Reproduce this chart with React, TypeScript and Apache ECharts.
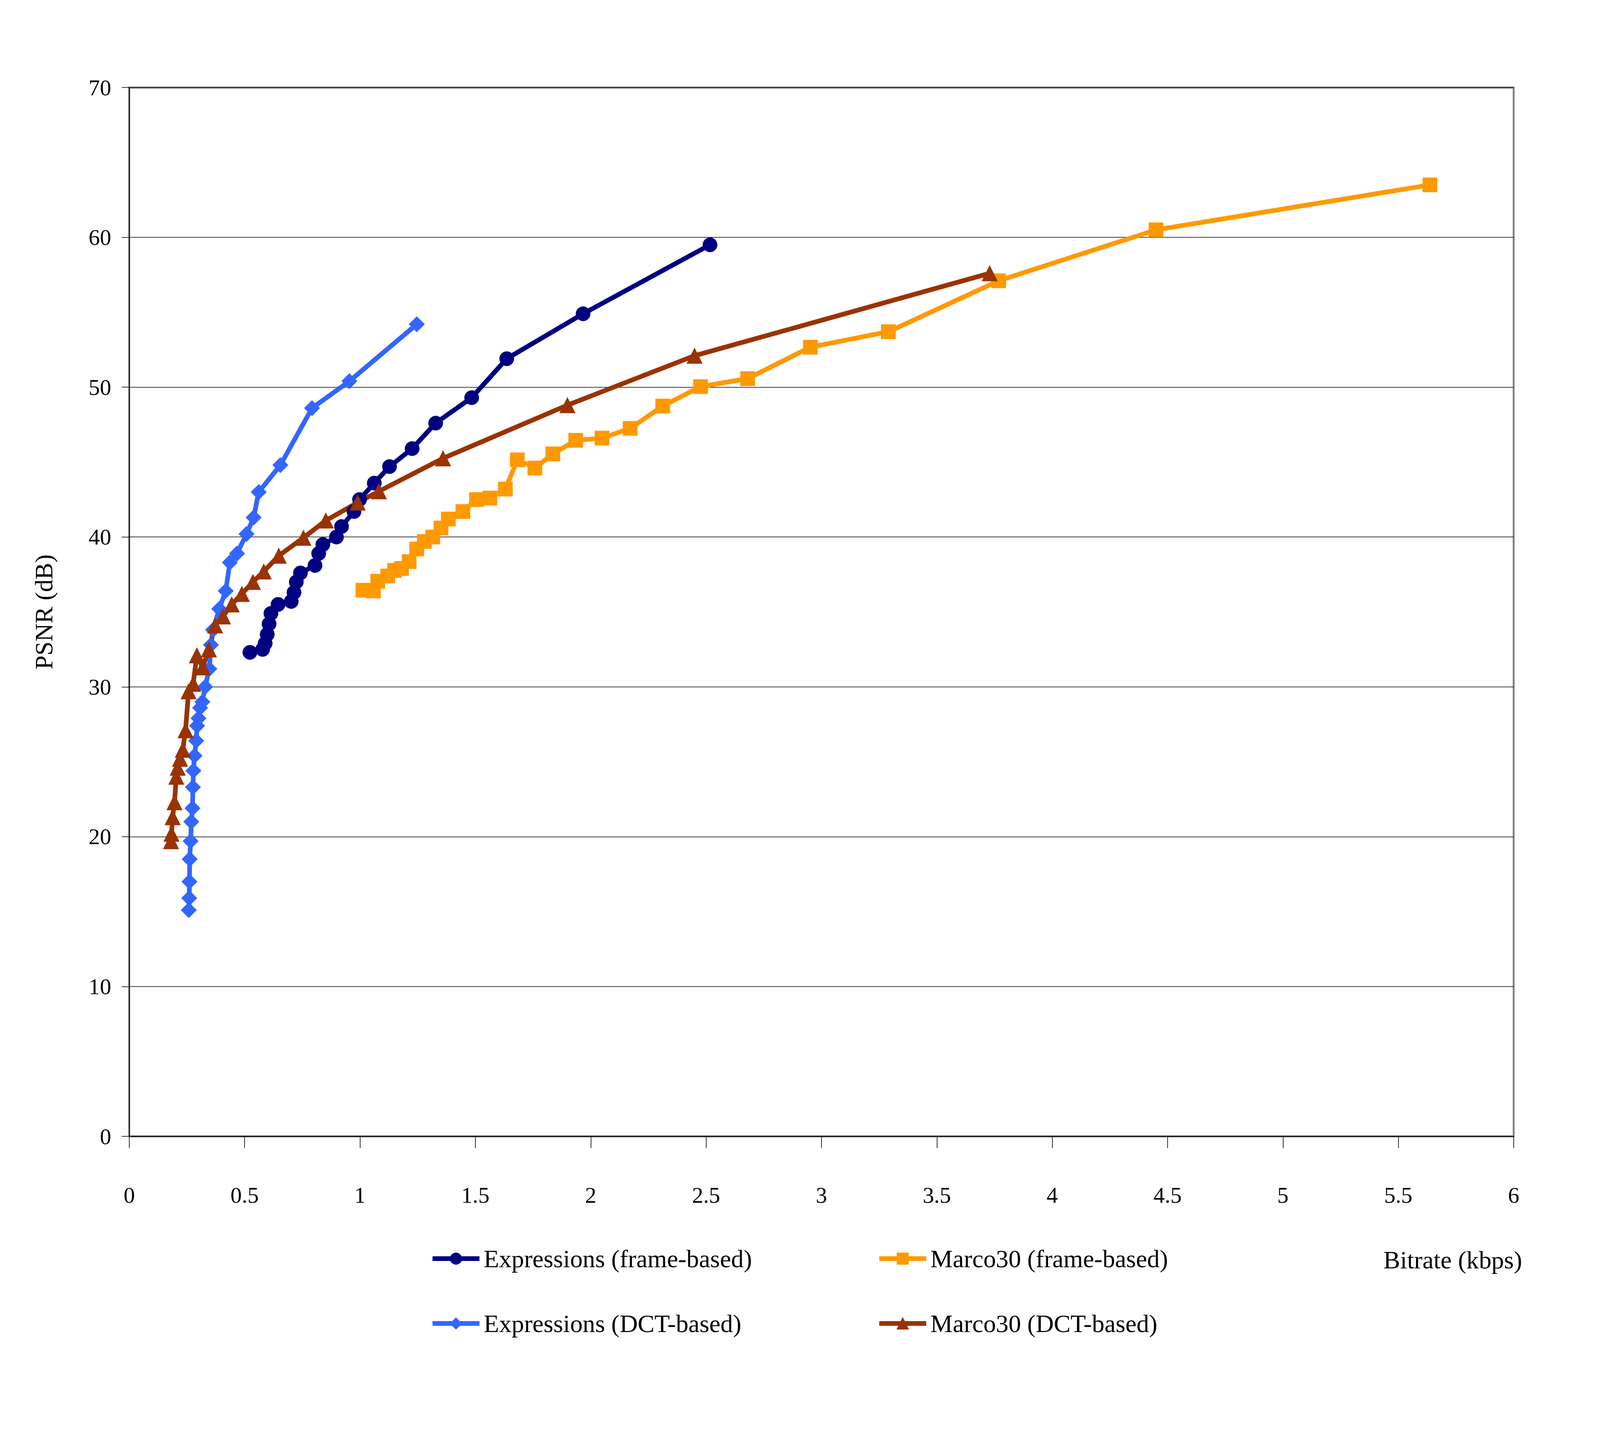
import React, { useEffect, useRef } from "react";
import * as echarts from "echarts";

const FONT = '"Liberation Serif", "Times New Roman", serif';
const REF_W = 6375;
const REF_H = 3694;

const xTicks = [0, 6, 0.5];
const yTicks = [0, 70, 10];

const seriesNames = [
  "Expressions (frame-based)",
  "Marco30 (frame-based)",
  "Expressions (DCT-based)",
  "Marco30 (DCT-based)",
];

const exprFrameX = [0.523, 0.578, 0.589, 0.598, 0.606, 0.614, 0.645, 0.702, 0.714, 0.724, 0.742, 0.805, 0.821, 0.839, 0.898, 0.92, 0.974, 0.998, 1.062, 1.128, 1.226, 1.328, 1.484, 1.636, 1.967, 2.517];
const exprFrameY = [32.3, 32.5, 32.9, 33.5, 34.2, 34.9, 35.5, 35.7, 36.3, 37.0, 37.6, 38.1, 38.9, 39.5, 40.0, 40.7, 41.7, 42.5, 43.6, 44.7, 45.9, 47.6, 49.3, 51.9, 54.9, 59.5];

const marcoFrameX = [1.013, 1.058, 1.077, 1.12, 1.15, 1.18, 1.213, 1.246, 1.279, 1.315, 1.351, 1.383, 1.446, 1.505, 1.563, 1.63, 1.682, 1.758, 1.836, 1.935, 2.049, 2.171, 2.312, 2.476, 2.68, 2.952, 3.29, 3.768, 4.45, 5.637];
const marcoFrameY = [36.45, 36.4, 37.05, 37.4, 37.77, 37.9, 38.36, 39.2, 39.7, 40.0, 40.6, 41.2, 41.7, 42.5, 42.6, 43.2, 45.15, 44.6, 45.55, 46.45, 46.6, 47.25, 48.74, 50.04, 50.57, 52.67, 53.7, 57.1, 60.5, 63.5];

const exprDctX = [0.258, 0.26, 0.261, 0.262, 0.266, 0.269, 0.274, 0.276, 0.278, 0.283, 0.29, 0.294, 0.3, 0.307, 0.317, 0.329, 0.347, 0.354, 0.363, 0.39, 0.418, 0.436, 0.467, 0.508, 0.539, 0.561, 0.655, 0.792, 0.954, 1.246];
const exprDctY = [15.1, 15.9, 17.0, 18.5, 19.7, 21.0, 21.9, 23.3, 24.4, 25.4, 26.4, 27.4, 27.9, 28.6, 29.0, 30.0, 31.2, 32.8, 33.8, 35.2, 36.4, 38.3, 38.9, 40.2, 41.3, 43.0, 44.8, 48.6, 50.4, 54.2];

const marcoDctX = [0.181, 0.183, 0.188, 0.196, 0.204, 0.21, 0.22, 0.232, 0.244, 0.257, 0.277, 0.293, 0.318, 0.345, 0.372, 0.406, 0.444, 0.488, 0.536, 0.583, 0.648, 0.755, 0.852, 0.99, 1.082, 1.36, 1.899, 2.45, 3.729];
const marcoDctY = [19.7, 20.2, 21.3, 22.3, 24.0, 24.6, 25.2, 25.8, 27.1, 29.7, 30.2, 32.1, 31.3, 32.5, 34.1, 34.7, 35.5, 36.2, 37.0, 37.7, 38.75, 39.95, 41.1, 42.3, 43.05, 45.25, 48.8, 52.1, 57.6];

const colors = ["#000080", "#FF9900", "#3366FF", "#993300"];
const symbols = ["circle", "rect", "diamond", "triangle"];
const symbolSizes = [46, 46, 50, 50];

const zip = (xs: number[], ys: number[]) => xs.map((x, i) => [x, ys[i]]);

export default function App() {
  const ref = useRef<HTMLDivElement>(null);
  useEffect(() => {
    const el = ref.current;
    if (!el) return;
    const sx = (el.clientWidth || window.innerWidth) / REF_W;
    const sy = (el.clientHeight || window.innerHeight) / REF_H;
    const sm = Math.sqrt(sx * sy);
    const X = (v: number) => v * sx;
    const Y = (v: number) => v * sy;
    const F = (v: number) => v * sx;
    const M = (v: number) => v * sm;
    const chart = echarts.init(el, null, { renderer: "svg" });
    const data = [
      zip(exprFrameX, exprFrameY),
      zip(marcoFrameX, marcoFrameY),
      zip(exprDctX, exprDctY),
      zip(marcoDctX, marcoDctY),
    ];
    const axisLine = { show: true, onZero: false, lineStyle: { color: "#000", width: M(2.5) } };
    const tickStyle = { color: "#000", width: M(2) };
    const legendText = {
      fontSize: F(100),
      fontFamily: FONT,
      color: "#000",
      lineHeight: F(100),
      padding: [0, 0, 0, X(9)],
    };
    const legendCommon = {
      orient: "vertical" as const,
      top: Y(3222) - F(50),
      itemWidth: X(187),
      itemHeight: F(56),
      itemGap: Y(166) - F(100),
      padding: 0,
      textStyle: legendText,
      lineStyle: { width: M(15) },
      selectedMode: false,
    };
    chart.setOption({
      animation: false,
      backgroundColor: "#ffffff",
      grid: {
        left: X(515),
        top: Y(224),
        right: X(344),
        bottom: Y(785),
        show: true,
        borderColor: "#808080",
        borderWidth: M(6),
        backgroundColor: "transparent",
      },
      xAxis: {
        type: "value",
        min: xTicks[0],
        max: xTicks[1],
        interval: xTicks[2],
        axisLine,
        axisTick: { show: true, inside: false, length: Y(30), lineStyle: tickStyle },
        axisLabel: { margin: Y(154) - F(50), fontSize: F(90), fontFamily: FONT, color: "#000" },
        splitLine: { show: false },
      },
      yAxis: {
        type: "value",
        min: yTicks[0],
        max: yTicks[1],
        interval: yTicks[2],
        name: "PSNR (dB)",
        nameLocation: "middle",
        nameGap: X(290),
        nameTextStyle: { fontSize: F(100), fontFamily: FONT, color: "#000", lineHeight: F(100) },
        axisLine,
        axisTick: { show: true, inside: false, length: X(30), lineStyle: tickStyle },
        axisLabel: { margin: X(72), fontSize: F(90), fontFamily: FONT, color: "#000" },
        splitLine: { show: true, lineStyle: { color: "#000", width: M(1.6) } },
      },
      legend: [
        { ...legendCommon, left: X(1714), data: [seriesNames[0], seriesNames[2]] },
        { ...legendCommon, left: X(3494), data: [seriesNames[1], seriesNames[3]] },
      ],
      graphic: [
        {
          type: "text",
          left: X(5512),
          top: Y(3226) - F(50),
          style: { text: "Bitrate (kbps)", fontSize: F(100), fontFamily: FONT, fill: "#000" },
        },
      ],
      series: seriesNames.map((name, i) => ({
        name,
        type: "line",
        data: data[i],
        symbol: symbols[i],
        symbolSize: M(symbolSizes[i]),
        showSymbol: true,
        clip: false,
        lineStyle: { color: colors[i], width: M(15) },
        itemStyle: { color: colors[i], borderColor: colors[i], borderWidth: M(1) },
        emphasis: { disabled: true },
      })),
    });
    return () => chart.dispose();
  }, []);
  return (
    <div
      ref={ref}
      style={{ position: "fixed", left: 0, top: 0, width: "100vw", height: "100vh", background: "#fff" }}
    />
  );
}
